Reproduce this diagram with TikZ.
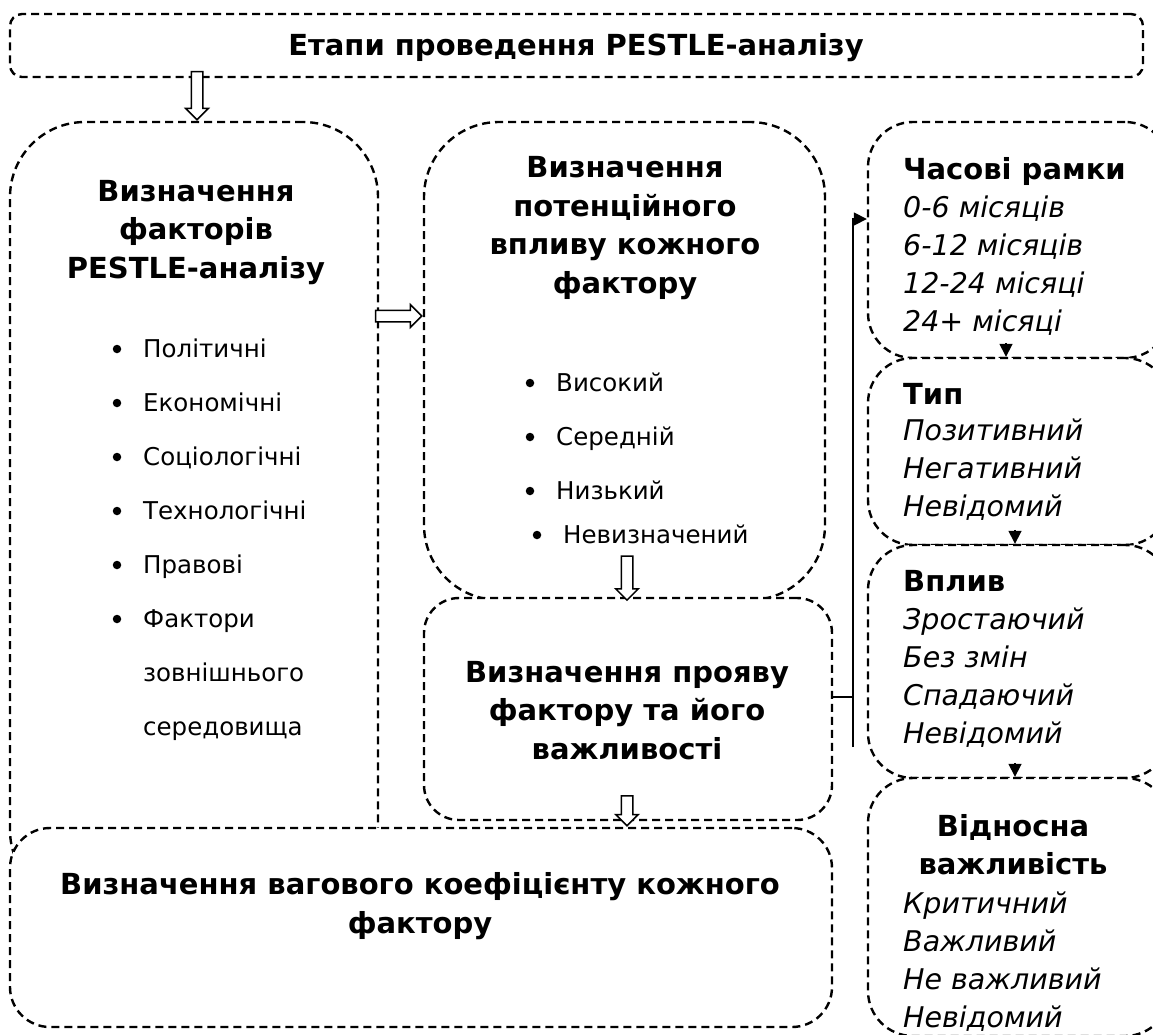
\documentclass[tikz,border=0pt]{standalone}
\usepackage{fontspec}
\setmainfont{DejaVu Sans}
\usetikzlibrary{shapes.arrows,arrows.meta}

\begin{document}
\begin{tikzpicture}[x=1pt,y=-1pt,
    stagebox/.style={draw, line width=2.4pt, dash pattern=on 8pt off 5pt,
      fill=white, rounded corners=#1, inner sep=0pt},
    stagebox/.default=40,
    hollowarrow/.style={single arrow, draw, line width=1.5pt, fill=white,
      minimum width=22pt, single arrow head extend=5.5pt,
      inner xsep=0pt, inner ysep=5pt, minimum height=#1},
    stagetitle/.style={font=\fontsize{29}{38}\selectfont\bfseries, anchor=base, inner sep=0pt},
    listitem/.style={font=\fontsize{24.5}{30}\selectfont, anchor=base west, inner sep=0pt},
    optline/.style={font=\fontsize{28.5}{38}\selectfont\itshape, anchor=base west, inner sep=0pt},
    dot/.style={circle, fill=black, inner sep=0pt, minimum size=8.5pt},
    feedline/.style={line width=1.6pt},
    smallarrow/.style={line width=1.6pt, -{Triangle[length=13pt,width=13pt]}}
  ]
        \useasboundingbox (0,0) rectangle (1153,1034);

        % Draw the title frame
        \node[stagebox=12, minimum width=1133pt, minimum height=63pt] (top) at (576.5,45.5) {};
        \node[stagetitle] (title) at (576,55) {Етапи проведення PESTLE-аналізу};

        % Draw the stage frames
        \node[stagebox=75, minimum width=368pt, minimum height=783pt] (factors) at (194,513.5) {};
        \node[stagebox=75, minimum width=401pt, minimum height=478pt] (impact) at (624.5,361) {};
        \node[stagebox=35, minimum width=408pt, minimum height=222pt] (manifest) at (628,709) {};
        \node[stagebox=40, minimum width=822pt, minimum height=199pt] (weight) at (421,927.5) {};

        % Draw the frames of the right column
        \node[stagebox=45, minimum width=302pt, minimum height=236pt] (time) at (1019,240) {};
        \node[stagebox=45, minimum width=302pt, minimum height=187pt] (type) at (1019,451.5) {};
        \node[stagebox=45, minimum width=302pt, minimum height=233pt] (infl) at (1019,661.5) {};
        \node[stagebox=45, minimum width=302pt, minimum height=258pt] (rel) at (1019,907) {};

        % Draw the hollow arrows between stages
        \node[hollowarrow=48pt, rotate=-90, anchor=tip] (down1) at (factors.north -| 197,0) {};
        \node[hollowarrow=46pt, anchor=tip] (right1) at (impact.west |- 0,316) {};
        \node[hollowarrow=44pt, rotate=-90, anchor=tip] (down2) at (impact.south -| 627,0) {};
        \node[hollowarrow=30pt, rotate=-90, anchor=tip] (down3) at (weight.north -| 627,0) {};

        % Draw the links of the right column
        \coordinate (join) at (853,697);
        \coordinate (low) at (853,747);
        \draw[feedline] (manifest.east |- join) -- (join);
        \draw[smallarrow] (low) -- (low |- 0,219) -- (time.west |- 0,219);
        \draw[smallarrow] ([yshift=14pt]type.north -| 1006,0) -- (type.north -| 1006,0);
        \draw[smallarrow] ([yshift=14pt]infl.north -| 1015,0) -- (infl.north -| 1015,0);
        \draw[smallarrow] ([yshift=14pt]rel.north -| 1015,0) -- (rel.north -| 1015,0);

        % Text of the first stage
        \node[stagetitle] (fh1) at (196,201) {Визначення};
        \node[stagetitle] (fh2) at (196,239) {факторів};
        \node[stagetitle] (fh3) at (196,278) {PESTLE-аналізу};
        \foreach \t [count=\i] in {Політичні, Економічні, Соціологічні, Технологічні, Правові, Фактори} {
            \node[dot] (fd\i) at (117,295+54*\i) {};
            \node[listitem] (fi\i) at (143,303+54*\i) {\t};
        }
        \node[listitem] (fi7) at (143,681) {зовнішнього};
        \node[listitem] (fi8) at (143,735) {середовища};

        % Text of the second stage
        \node[stagetitle] (ih1) at (625,177) {Визначення};
        \node[stagetitle] (ih2) at (625,216) {потенційного};
        \node[stagetitle] (ih3) at (625,254) {впливу кожного};
        \node[stagetitle] (ih4) at (625,293) {фактору};
        \foreach \t [count=\i] in {Високий, Середній, Низький} {
            \node[dot] (id\i) at (530,329+54*\i) {};
            \node[listitem] (ii\i) at (556,337+54*\i) {\t};
        }
        \node[dot] (id4) at (537,535) {};
        \node[listitem] (ii4) at (563,543) {Невизначений};

        % Text of the third and fourth stage
        \node[stagetitle] (mh1) at (627,682) {Визначення прояву};
        \node[stagetitle] (mh2) at (627,720) {фактору та його};
        \node[stagetitle] (mh3) at (627,759) {важливості};
        \node[stagetitle] (wh1) at (420,894) {Визначення вагового коефіцієнту кожного};
        \node[stagetitle] (wh2) at (420,933) {фактору};

        % Text of the right column
        \node[stagetitle, anchor=base west] (th) at (903,179) {Часові рамки};
        \foreach \t [count=\i] in {0-6 місяців, 6-12 місяців, 12-24 місяці, 24+ місяці}
            \node[optline] (to\i) at (903,179+38*\i) {\t};
        \node[stagetitle, anchor=base west] (yh) at (903,404) {Тип};
        \foreach \t [count=\i] in {Позитивний, Негативний, Невідомий}
            \node[optline] (yo\i) at (903,402+38*\i) {\t};
        \node[stagetitle, anchor=base west] (vh) at (903,591) {Вплив};
        \foreach \t [count=\i] in {Зростаючий, Без змін, Спадаючий, Невідомий}
            \node[optline] (vo\i) at (903,591+38*\i) {\t};
        \node[stagetitle] (rh1) at (1013,836) {Відносна};
        \node[stagetitle] (rh2) at (1013,874) {важливість};
        \foreach \t [count=\i] in {Критичний, Важливий, Не важливий, Невідомий}
            \node[optline] (ro\i) at (903,875+38*\i) {\t};
\end{tikzpicture}
\end{document}
